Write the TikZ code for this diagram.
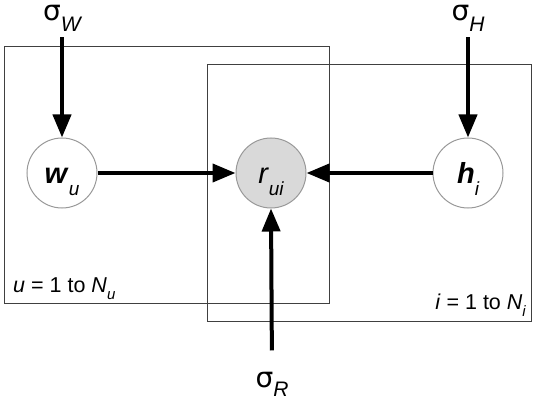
\documentclass[tikz,border=0pt]{standalone}
\usepackage{fontspec}
\setmainfont{Liberation Sans}
\newfontfamily\sigfont{DejaVu Sans}
\usetikzlibrary{arrows.meta}
\newcommand\lsub[3]{\raisebox{-#1}{\fontsize{#2}{#2}\selectfont\itshape #3}}
\newcommand\sigsym{{\sigfont σ}}
\begin{document}
\begin{tikzpicture}[x=1pt,y=-1pt,
  plate/.style={draw=black!75,line width=1pt},
  varnode/.style={circle,draw=black!40,line width=1pt,minimum size=70pt,inner sep=0pt,
    text height=21pt,text depth=0pt,font=\fontsize{29}{31}\selectfont},
  lbl/.style={inner sep=0pt,font=\fontsize{28}{30}\selectfont},
  platelbl/.style={inner sep=0pt,font=\fontsize{21.5}{24}\selectfont},
  link/.style={line width=4pt,-{Triangle[length=23pt,width=18pt]}}
]
\useasboundingbox (0,0) rectangle (536,401);
% plates
\draw[plate] (4,47) rectangle (329,303);
\draw[plate] (207,65) rectangle (531,321);
% nodes
\node[varnode,fill=white] (w) at (62,173) {\textbf{\textit{w}}\lsub{12pt}{19}{u}};
\node[varnode,fill=black!15] (r) at (271,173) {\textit{r}\lsub{12pt}{19}{ui}};
\node[varnode,fill=white] (h) at (468,173) {\textbf{\textit{h}}\lsub{12pt}{19}{i}};
% hyperparameters
\node[lbl,anchor=base] (sW) at (62,21) {\sigsym\lsub{11pt}{21}{W}};
\node[lbl,anchor=base] (sH) at (468,21) {\sigsym\lsub{11pt}{21}{H}};
\node[lbl,anchor=base] (sR) at (272,387) {\sigsym\lsub{9pt}{21}{R}};
% plate labels
\node[platelbl,anchor=base west] (lu) at (13,292) {\textit{u} = 1 to \textit{N}\lsub{7pt}{15}{u}};
\node[platelbl,anchor=base east] (li) at (526,309) {\textit{i} = 1 to \textit{N}\lsub{7pt}{15}{i}};
% edges
\draw[link,shorten <=5pt] (sW.south) -- (w.north);
\draw[link,shorten <=5pt] (sH.south) -- (h.north);
\draw[link,shorten <=21pt] (sR.north) -- (r.south);
\draw[link] (w.east) -- (r.west);
\draw[link] (h.west) -- (r.east);
\end{tikzpicture}
\end{document}
